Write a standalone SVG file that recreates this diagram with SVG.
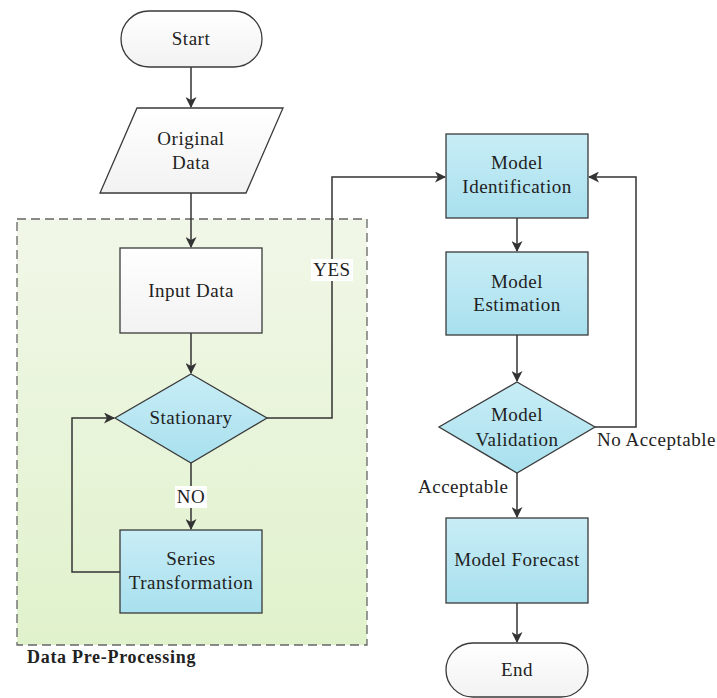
<svg xmlns="http://www.w3.org/2000/svg" width="717" height="698" viewBox="0 0 717 698">
<defs>
<linearGradient id="gGreen" x1="0" y1="0" x2="0" y2="1"><stop offset="0" stop-color="#f1f7e8"/><stop offset="1" stop-color="#e0f2cc"/></linearGradient>
<linearGradient id="gBlue" x1="0" y1="0" x2="0" y2="1"><stop offset="0" stop-color="#c8edf6"/><stop offset="1" stop-color="#a8e0ee"/></linearGradient>
<linearGradient id="gWhite" x1="0" y1="0" x2="0" y2="1"><stop offset="0" stop-color="#ffffff"/><stop offset="1" stop-color="#f2f2f2"/></linearGradient>
<marker id="arr" markerWidth="11" markerHeight="11" refX="10" refY="5.5" orient="auto" markerUnits="userSpaceOnUse"><path d="M0,0 L11,5.5 L0,11 L3,5.5 Z" fill="#333"/></marker>
<style>
.t{font-family:"Liberation Serif","Times New Roman",serif;font-size:19px;letter-spacing:0.5px;fill:#222;text-anchor:middle}
.s{stroke:#3a3a3a;stroke-width:1.3}
.c{fill:none;stroke:#333;stroke-width:1.5}
.lbl{fill:#fff}
</style>
</defs>
<rect width="717" height="698" fill="#fff"/>
<g id="preprocessing">
<rect x="17" y="219" width="350" height="426" fill="url(#gGreen)" stroke="#666" stroke-width="1.3" stroke-dasharray="9,5"/>
<text x="27" y="663" class="t" style="text-anchor:start;font-weight:bold;font-size:18px;letter-spacing:0.7px">Data Pre-Processing</text>
</g>
<g id="connectors">
<path class="c" d="M191,67 V107" marker-end="url(#arr)"/>
<path class="c" d="M191,193 V247" marker-end="url(#arr)"/>
<path class="c" d="M191,333 V373" marker-end="url(#arr)"/>
<path class="c" d="M191,463 V529" marker-end="url(#arr)"/>
<path class="c" d="M120,572 H72 V418 H114" marker-end="url(#arr)"/>
<path class="c" d="M267,418 H332 V177 H445" marker-end="url(#arr)"/>
<path class="c" d="M517,218 V251" marker-end="url(#arr)"/>
<path class="c" d="M517,335 V381" marker-end="url(#arr)"/>
<path class="c" d="M595,427 H636 V177 H589" marker-end="url(#arr)"/>
<path class="c" d="M517,473 V517" marker-end="url(#arr)"/>
<path class="c" d="M517,603 V642" marker-end="url(#arr)"/>
<rect class="lbl" x="311" y="259" width="42" height="22"/>
<text x="332" y="276" class="t">YES</text>
<rect class="lbl" x="175" y="486" width="32" height="22"/>
<text x="191" y="503" class="t">NO</text>
<text x="418" y="493" class="t" style="text-anchor:start">Acceptable</text>
<text x="597" y="446" class="t" style="text-anchor:start">No Acceptable</text>
</g>
<g id="start">
<rect class="s" x="121" y="11" width="141" height="56" rx="28" fill="url(#gWhite)"/>
<text x="191" y="45" class="t">Start</text>
</g>
<g id="original-data">
<polygon class="s" points="137,108 283,108 246,193 100,193" fill="url(#gWhite)"/>
<text x="191" y="145" class="t">Original</text>
<text x="191" y="169" class="t">Data</text>
</g>
<g id="input-data">
<rect class="s" x="120" y="248" width="142" height="85" fill="url(#gWhite)"/>
<text x="191" y="297" class="t">Input Data</text>
</g>
<g id="stationary">
<polygon class="s" points="191,374 267,418 191,463 115,418" fill="url(#gBlue)"/>
<text x="191" y="424" class="t">Stationary</text>
</g>
<g id="series-transformation">
<rect class="s" x="120" y="530" width="142" height="83" fill="url(#gBlue)"/>
<text x="191" y="565" class="t">Series</text>
<text x="191" y="589" class="t">Transformation</text>
</g>
<g id="model-identification">
<rect class="s" x="446" y="134" width="142" height="84" fill="url(#gBlue)"/>
<text x="517" y="169" class="t">Model</text>
<text x="517" y="193" class="t">Identification</text>
</g>
<g id="model-estimation">
<rect class="s" x="446" y="252" width="142" height="83" fill="url(#gBlue)"/>
<text x="517" y="288" class="t">Model</text>
<text x="517" y="311" class="t">Estimation</text>
</g>
<g id="model-validation">
<polygon class="s" points="517,382 595,427 517,473 439,427" fill="url(#gBlue)"/>
<text x="517" y="421" class="t">Model</text>
<text x="517" y="446" class="t">Validation</text>
</g>
<g id="model-forecast">
<rect class="s" x="446" y="518" width="142" height="85" fill="url(#gBlue)"/>
<text x="517" y="566" class="t">Model Forecast</text>
</g>
<g id="end">
<rect class="s" x="446" y="643" width="142" height="54" rx="27" fill="url(#gWhite)"/>
<text x="517" y="676" class="t">End</text>
</g>
</svg>
